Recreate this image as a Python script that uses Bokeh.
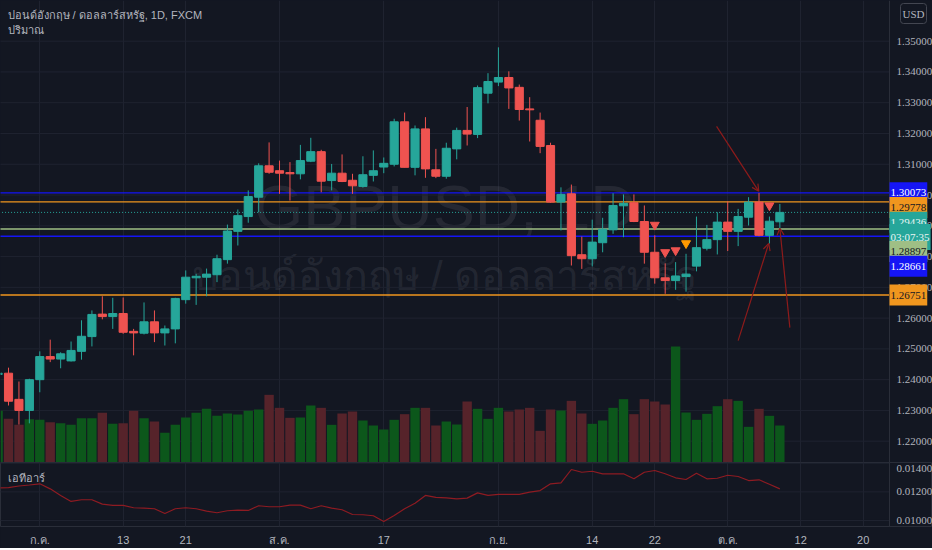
import pandas as pd
from bokeh.plotting import figure
from bokeh.models import (Range1d, FixedTicker, Span, Label, Arrow, OpenHead,
                          ColumnDataSource)
from bokeh.core.properties import value
from bokeh.layouts import column
from bokeh.embed import file_html
from bokeh.resources import INLINE

# ---------------- data ----------------
dates = [d.strftime("%Y-%m-%d") for d in pd.bdate_range("2020-06-25", "2020-10-08")]

opens = [1.2417, 1.2421, 1.2336, 1.2300, 1.2400, 1.2475, 1.2467, 1.2461, 1.2492, 1.2540,
         1.2613, 1.2605, 1.2615, 1.2557, 1.2551, 1.2588, 1.2552, 1.2565, 1.2660, 1.2731,
         1.2733, 1.2741, 1.2790, 1.2882, 1.2930, 1.2993, 1.3095, 1.3079, 1.3073, 1.3069,
         1.3110, 1.3141, 1.3047, 1.3071, 1.3048, 1.3028, 1.3064, 1.3091, 1.3100, 1.3238,
         1.3090, 1.3215, 1.3082, 1.3061, 1.3150, 1.3210, 1.3197, 1.3331, 1.3367, 1.3382,
         1.3350, 1.3280, 1.3243, 1.3161, 1.2977, 1.3004, 1.2806, 1.2793, 1.2845, 1.2887,
         1.2965, 1.2975, 1.2914, 1.2814, 1.2731, 1.2722, 1.2735, 1.2769, 1.2827, 1.2855,
         1.2912, 1.2882, 1.2928, 1.2977, 1.2869, 1.2913]
highs = [1.2440, 1.2439, 1.2394, 1.2403, 1.2492, 1.2530, 1.2489, 1.2524, 1.2593, 1.2625,
         1.2671, 1.2666, 1.2667, 1.2565, 1.2651, 1.2625, 1.2576, 1.2666, 1.2755, 1.2744,
         1.2761, 1.2806, 1.2904, 1.2953, 1.3015, 1.3103, 1.3171, 1.3112, 1.3107, 1.3163,
         1.3186, 1.3147, 1.3101, 1.3132, 1.3069, 1.3126, 1.3145, 1.3122, 1.3248, 1.3268,
         1.3226, 1.3253, 1.3150, 1.3170, 1.3219, 1.3286, 1.3356, 1.3396, 1.3480, 1.3402,
         1.3359, 1.3318, 1.3268, 1.3170, 1.3025, 1.3034, 1.2865, 1.2920, 1.2926, 1.3006,
         1.3002, 1.3002, 1.2966, 1.2869, 1.2778, 1.2782, 1.2809, 1.2930, 1.2903, 1.2944,
         1.2980, 1.2955, 1.2993, 1.3007, 1.2930, 1.2971]
lows = [1.2395, 1.2316, 1.2254, 1.2258, 1.2359, 1.2457, 1.2437, 1.2459, 1.2465, 1.2508,
        1.2596, 1.2565, 1.2549, 1.2479, 1.2547, 1.2522, 1.2511, 1.2518, 1.2647, 1.2643,
        1.2671, 1.2717, 1.2777, 1.2836, 1.2910, 1.2944, 1.3069, 1.3004, 1.2982, 1.3051,
        1.3107, 1.3009, 1.3015, 1.3042, 1.3004, 1.3024, 1.3044, 1.3071, 1.3093, 1.3090,
        1.3064, 1.3056, 1.3055, 1.3053, 1.3116, 1.3161, 1.3185, 1.3298, 1.3354, 1.3280,
        1.3242, 1.3174, 1.3136, 1.2975, 1.2885, 1.2771, 1.2760, 1.2768, 1.2814, 1.2874,
        1.2863, 1.2912, 1.2777, 1.2712, 1.2679, 1.2692, 1.2686, 1.2752, 1.2820, 1.2807,
        1.2818, 1.2834, 1.2901, 1.2866, 1.2842, 1.2890]
closes = [1.2421, 1.2330, 1.2300, 1.2400, 1.2475, 1.2467, 1.2484, 1.2495, 1.2541, 1.2612,
          1.2605, 1.2615, 1.2554, 1.2552, 1.2588, 1.2552, 1.2565, 1.2664, 1.2733, 1.2736,
          1.2743, 1.2793, 1.2883, 1.2933, 1.2995, 1.3095, 1.3074, 1.3071, 1.3069, 1.3112,
          1.3141, 1.3045, 1.3071, 1.3044, 1.3030, 1.3066, 1.3079, 1.3103, 1.3238, 1.3090,
          1.3215, 1.3085, 1.3061, 1.3152, 1.3210, 1.3198, 1.3349, 1.3369, 1.3382, 1.3348,
          1.3278, 1.3277, 1.3158, 1.2977, 1.3002, 1.2803, 1.2793, 1.2847, 1.2889, 1.2966,
          1.2973, 1.2914, 1.2814, 1.2731, 1.2722, 1.2737, 1.2743, 1.2829, 1.2855, 1.2912,
          1.2882, 1.2930, 1.2977, 1.2869, 1.2915, 1.29436]
volumes = [155000, 131000, 113000, 130000, 128000, 121000, 118000, 113000, 133000, 133000,
           149000, 116000, 118000, 155000, 133000, 123000, 89000, 113000, 135000, 149000,
           161000, 140000, 147000, 144000, 155000, 159000, 203000, 164000, 134000, 135000,
           171000, 164000, 113000, 147000, 153000, 126000, 111000, 99000, 128000, 145000,
           164000, 164000, 111000, 123000, 114000, 183000, 161000, 131000, 164000, 153000,
           159000, 164000, 95000, 159000, 156000, 185000, 147000, 116000, 126000, 164000,
           190000, 145000, 190000, 183000, 174000, 348000, 150000, 128000, 146000, 169000,
           190000, 185000, 107000, 161000, 140000, 111000]
atr = [0.01228, 0.01230, 0.01241, 0.01248, 0.01256, 0.01221, 0.01175, 0.01133, 0.01145, 0.01145,
       0.01114, 0.01105, 0.01105, 0.01089, 0.01086, 0.01082, 0.01049, 0.01082, 0.01089, 0.01082,
       0.01065, 0.01054, 0.01068, 0.01072, 0.01070, 0.01103, 0.01096, 0.01096, 0.01107, 0.01107,
       0.01082, 0.01103, 0.01086, 0.01075, 0.01042, 0.01040, 0.01033, 0.00993, 0.01035, 0.01082,
       0.01121, 0.01175, 0.01161, 0.01158, 0.01151, 0.01156, 0.01193, 0.01175, 0.01182, 0.01182,
       0.01182, 0.01198, 0.01209, 0.01256, 0.01263, 0.01356, 0.01337, 0.01344, 0.01326, 0.01326,
       0.01326, 0.01291, 0.01337, 0.01349, 0.01326, 0.01298, 0.01286, 0.01330, 0.01291, 0.01295,
       0.01316, 0.01307, 0.01279, 0.01284, 0.01253, 0.01221]

# signal markers (date, price, colour)
signal_dates = ["2020-09-22", "2020-09-23", "2020-09-24", "2020-09-25", "2020-10-07"]
signal_prices = [1.2903, 1.2814, 1.2820, 1.2843, 1.2966]
signal_colors = ["#ef5350", "#ef5350", "#ef5350", "#ff9800", "#ef5350"]

# drawn arrows (bar position, price)
arrow_x0 = [68.93, 71.0, 75.96]
arrow_y0 = [1.3223, 1.2527, 1.2569]
arrow_x1 = [72.98, 73.94, 75.0]
arrow_y1 = [1.3012, 1.2843, 1.2892]

# horizontal levels
level_values = [1.30073, 1.29778, 1.28897, 1.28661, 1.26751]
level_colors = ["#1515f5", "#f0961e", "#9fbf85", "#1515f5", "#f0961e"]
level_text = ["#ffffff", "#131722", "#131722", "#ffffff", "#131722"]
last_price = 1.29436
countdown = "03:07:35"

tick_dates = ["2020-07-01", "2020-07-13", "2020-07-21", "2020-08-03", "2020-08-17",
              "2020-09-01", "2020-09-14", "2020-09-22", "2020-10-01", "2020-10-12", "2020-10-20"]
tick_labels = ["ก.ค.", "13", "21", "ส.ค.", "17", "ก.ย.", "14", "22", "ต.ค.", "12", "20"]
price_ticks = [1.22, 1.23, 1.24, 1.25, 1.26, 1.27, 1.28, 1.29, 1.30, 1.31, 1.32, 1.33, 1.34, 1.35]
atr_ticks = [0.010, 0.012, 0.014]

# ---------------- derived ----------------
idx = list(range(len(dates)))
all_days = pd.bdate_range(dates[0], "2020-10-30")
day_pos = {d.strftime("%Y-%m-%d"): i for i, d in enumerate(all_days)}
tick_idx = [day_pos[d] for d in tick_dates]
sig_idx = [day_pos[d] for d in signal_dates]

UP, DOWN = "#26a69a", "#ef5350"
VUP, VDOWN = "#0c571b", "#56232a"
colors = [UP if c >= o else DOWN for o, c in zip(opens, closes)]
vcolors = [VUP if c >= o else VDOWN for o, c in zip(opens, closes)]
src = ColumnDataSource(dict(x=idx, o=opens, h=highs, l=lows, c=closes,
                            top=[max(a, b) for a, b in zip(opens, closes)],
                            bot=[min(a, b) for a, b in zip(opens, closes)],
                            col=colors, vol=volumes, vcol=vcolors, atr=atr))

BG = "#131722"
GRID = "#1f2330"
BORDER = "#2a2e39"
TXT = "#b2b5be"
FONT = "Liberation Sans"
SCALE_FONT = "Liberation Sans Narrow"
W = 932            # full frame width (chart + price scale)
CW = 889           # chart area width
MH = 462
IH = 64
X0 = 0.23
BARS = 85.29       # bars visible over the chart area
UPX = BARS / CW    # bar units per pixel
X_EDGE = X0 + BARS
X_END = X0 + W * UPX
X_LAB = X_EDGE + 7 * UPX
XR = Range1d(X0, X_END)
YMIN, YMAX = 1.21308, 1.36322


def base_fig(h, yr, show_x):
    f = figure(frame_width=W, frame_height=h, x_range=XR, y_range=yr,
               x_axis_location="below" if show_x else None, y_axis_location=None,
               output_backend="svg", toolbar_location=None,
               background_fill_color=BG, border_fill_color=BG,
               min_border_left=0, min_border_right=0, min_border_top=0,
               min_border_bottom=4 if show_x else 0,
               outline_line_color=None)
    f.ygrid.visible = False
    f.xgrid.ticker = FixedTicker(ticks=tick_idx)
    f.xgrid.grid_line_color = GRID
    return f


p = base_fig(MH, Range1d(YMIN, YMAX), False)
p.extra_y_ranges = {"vol": Range1d(0, 1386000)}

# horizontal grid limited to chart area
p.segment(x0=X0 - 1, x1=X_EDGE, y0=price_ticks, y1=price_ticks, line_color=GRID, line_width=1)
p.add_layout(Span(location=X_EDGE, dimension="height", line_color=BORDER, line_width=1))

# watermark
p.add_layout(Label(x=CW / 2, y=MH - 206, x_units="screen", y_units="screen", text="GBPUSD, 1D",
                   text_align="center", text_baseline="middle", text_font=FONT,
                   text_font_size="63px", text_color="#787b86", text_alpha=0.18, level="underlay"))
p.add_layout(Label(x=CW / 2, y=MH - 275, x_units="screen", y_units="screen",
                   text="ปอนด์อังกฤษ / ดอลลาร์สหรัฐ",
                   text_align="center", text_baseline="middle", text_font=FONT,
                   text_font_size="41px", text_color="#787b86", text_alpha=0.18, level="underlay"))

# volume
p.vbar(x="x", width=0.9, top="vol", bottom=0, fill_color="vcol", line_color=None,
       y_range_name="vol", source=src)

# level lines
p.segment(x0=X0 - 1, x1=X_EDGE, y0=level_values, y1=level_values, line_color=level_colors,
          line_width=1.3)
p.segment(x0=X0 - 1, x1=X_EDGE, y0=[last_price], y1=[last_price], line_color=UP,
          line_width=1, line_dash="1 2")

# candles
p.segment(x0="x", y0="h", x1="x", y1="l", line_color="col", line_width=1, source=src)
p.vbar(x="x", width=0.78, top="top", bottom="bot", fill_color="col", line_color="col", source=src)

# signals
p.scatter(x=sig_idx, y=signal_prices, marker="inverted_triangle", size=9,
          fill_color=signal_colors, line_color=signal_colors)

# arrows
asrc = ColumnDataSource(dict(x0=arrow_x0, y0=arrow_y0, x1=arrow_x1, y1=arrow_y1))
p.add_layout(Arrow(x_start="x0", y_start="y0", x_end="x1", y_end="y1", source=asrc,
                   line_color="#8e1b1b", line_width=1.2,
                   end=OpenHead(size=7, line_color="#8e1b1b", line_width=1.2)))

# price scale labels
p.text(x=[X_LAB] * len(price_ticks), y=price_ticks, text=[f"{v:.5f}" for v in price_ticks],
       text_baseline="middle", text_align="left", text_font=value(SCALE_FONT),
       text_font_size="11px", text_color=TXT)

# header texts
p.add_layout(Label(x=7, y=MH - 14, x_units="screen", y_units="screen",
                   text="ปอนด์อังกฤษ / ดอลลาร์สหรัฐ, 1D, FXCM", text_baseline="middle",
                   text_font=FONT, text_font_size="11px", text_color=TXT))
p.add_layout(Label(x=7, y=MH - 29, x_units="screen", y_units="screen", text="ปริมาณ",
                   text_baseline="middle", text_font=FONT, text_font_size="11px", text_color=TXT))
p.add_layout(Label(x=900, y=MH - 13, x_units="screen", y_units="screen", text="USD",
                   text_baseline="middle", text_font=SCALE_FONT, text_font_size="11px",
                   text_color=TXT, background_fill_color=BG, border_line_color="#434651",
                   border_radius=3, padding=(2, 4)))

# price tags on the scale, stacked like the reference
ppu = MH / (YMAX - YMIN)
BOX = 14.7
tags = [(level_values[0], f"{level_values[0]:.5f}", level_colors[0], level_text[0]),
        (level_values[1], f"{level_values[1]:.5f}", level_colors[1], level_text[1]),
        (last_price, f"{last_price:.5f}", UP, "#e8f5f3"),
        (last_price, countdown, UP, "#e8f5f3"),
        (level_values[2], f"{level_values[2]:.5f}", level_colors[2], level_text[2]),
        (level_values[3], f"{level_values[3]:.5f}", level_colors[3], level_text[3])]
prev = None
for v, t, bg, fg in tags:
    ypx = (v - YMIN) * ppu
    pos = ypx if prev is None else min(ypx, prev - BOX)
    prev = pos
    p.add_layout(Label(x=CW, y=v, x_units="screen", y_units="data", y_offset=pos - ypx,
                       text=t, text_baseline="middle", text_font=SCALE_FONT,
                       text_font_size="11px", text_color=fg, background_fill_color=bg,
                       padding=(1, 7)))
p.add_layout(Label(x=CW, y=level_values[4], x_units="screen", y_units="data",
                   text=f"{level_values[4]:.5f}", text_baseline="middle", text_font=SCALE_FONT,
                   text_font_size="11px", text_color=level_text[4],
                   background_fill_color=level_colors[4], padding=(1, 7)))

# ---------------- indicator pane ----------------
q = base_fig(IH, Range1d(0.009581, 0.014049), True)
q.outline_line_color = BORDER
q.segment(x0=X0 - 1, x1=X_EDGE, y0=atr_ticks, y1=atr_ticks, line_color=GRID, line_width=1)
q.add_layout(Span(location=X_EDGE, dimension="height", line_color=BORDER, line_width=1))
xa = q.xaxis[0]
xa.ticker = FixedTicker(ticks=tick_idx)
xa.major_label_overrides = {i: l for i, l in zip(tick_idx, tick_labels)}
xa.axis_line_color = None
xa.major_tick_line_color = None
xa.minor_tick_line_color = None
xa.major_tick_out = 0
xa.major_label_text_color = TXT
xa.major_label_text_font = FONT
xa.major_label_text_font_size = "11px"
xa.major_label_standoff = 7
q.line(x="x", y="atr", line_color="#8e1b22", line_width=1.2, source=src)
q.text(x=[X_LAB] * len(atr_ticks), y=atr_ticks, text=[f"{v:.5f}" for v in atr_ticks],
       y_offset=[0, 0, 5], text_baseline="middle", text_align="left",
       text_font=value(SCALE_FONT), text_font_size="11px", text_color=TXT)
q.add_layout(Label(x=7, y=IH - 15, x_units="screen", y_units="screen", text="เอทีอาร์",
                   text_baseline="middle", text_font=FONT, text_font_size="11px", text_color=TXT))

layout = column(p, q, spacing=0, styles={"background-color": BG})
html = file_html(layout, INLINE, title="GBPUSD")
html = html.replace("<body>", '<body style="background-color:#131722;">', 1)
open("out.html", "w").write(html)
